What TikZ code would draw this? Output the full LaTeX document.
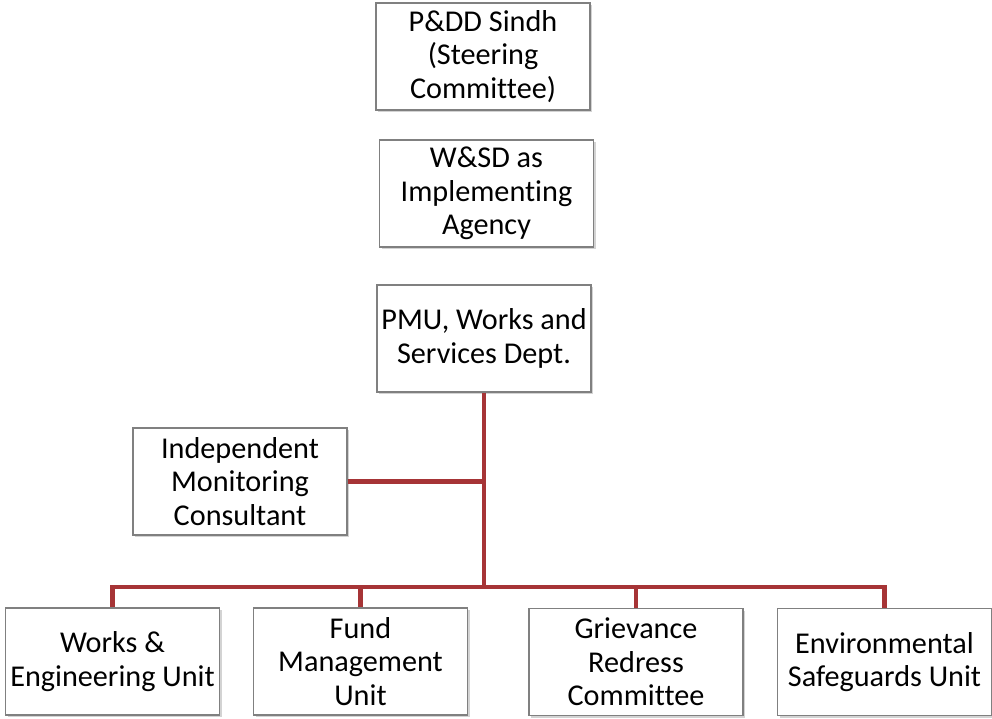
\documentclass[tikz,border=0pt]{standalone}
\usepackage{fontspec}
\setmainfont[Ligatures=NoCommon]{Carlito}
\usetikzlibrary{shadows}
\definecolor{linkred}{RGB}{166,52,54}
\definecolor{boxgray}{RGB}{128,128,128}

\begin{document}
\begin{tikzpicture}[x=0.02cm,y=-0.02cm,
  unitbox/.style={draw=boxgray,fill=white,line width=0.6pt,minimum width=4.28cm,minimum height=2.14cm,
    align=center,font=\fontsize{17.2}{19}\selectfont,inner sep=2pt,
    drop shadow={opacity=0.35,shadow xshift=1.2pt,shadow yshift=-1.2pt}},
  link/.style={draw=linkred,line width=2.3pt}]
\useasboundingbox (0,0) rectangle (992,719);
\node[unitbox] (pdd) at (483,56.5) {P\&DD Sindh\\(Steering\\Committee)};
\node[unitbox] (wsd) at (486.5,193.5) {W\&SD as\\Implementing\\Agency};
\node[unitbox] (pmu) at (484,338.5) {PMU, Works and\\Services Dept.};
\node[unitbox] (imc) at (240,481.5) {Independent\\Monitoring\\Consultant};
\node[unitbox] (weu) at (112.5,661.5) {Works \&\\Engineering Unit};
\node[unitbox] (fmu) at (360.5,661.5) {Fund\\Management\\Unit};
\node[unitbox] (grc) at (636,662) {Grievance\\Redress\\Committee};
\node[unitbox] (esu) at (884.5,662) {Environmental\\Safeguards Unit};
\coordinate (bus) at (484,587);
% trunk and side branch
\draw[link] (pmu.south) -- (bus);
\draw[link] (imc.east) -- (imc.east -| pmu.south);
% bus down to the units
\draw[link] (bus) -| (weu.north);
\draw[link] (bus) -| (fmu.north);
\draw[link] (bus) -| (grc.north);
\draw[link] (bus) -| (esu.north);
\end{tikzpicture}
\end{document}
